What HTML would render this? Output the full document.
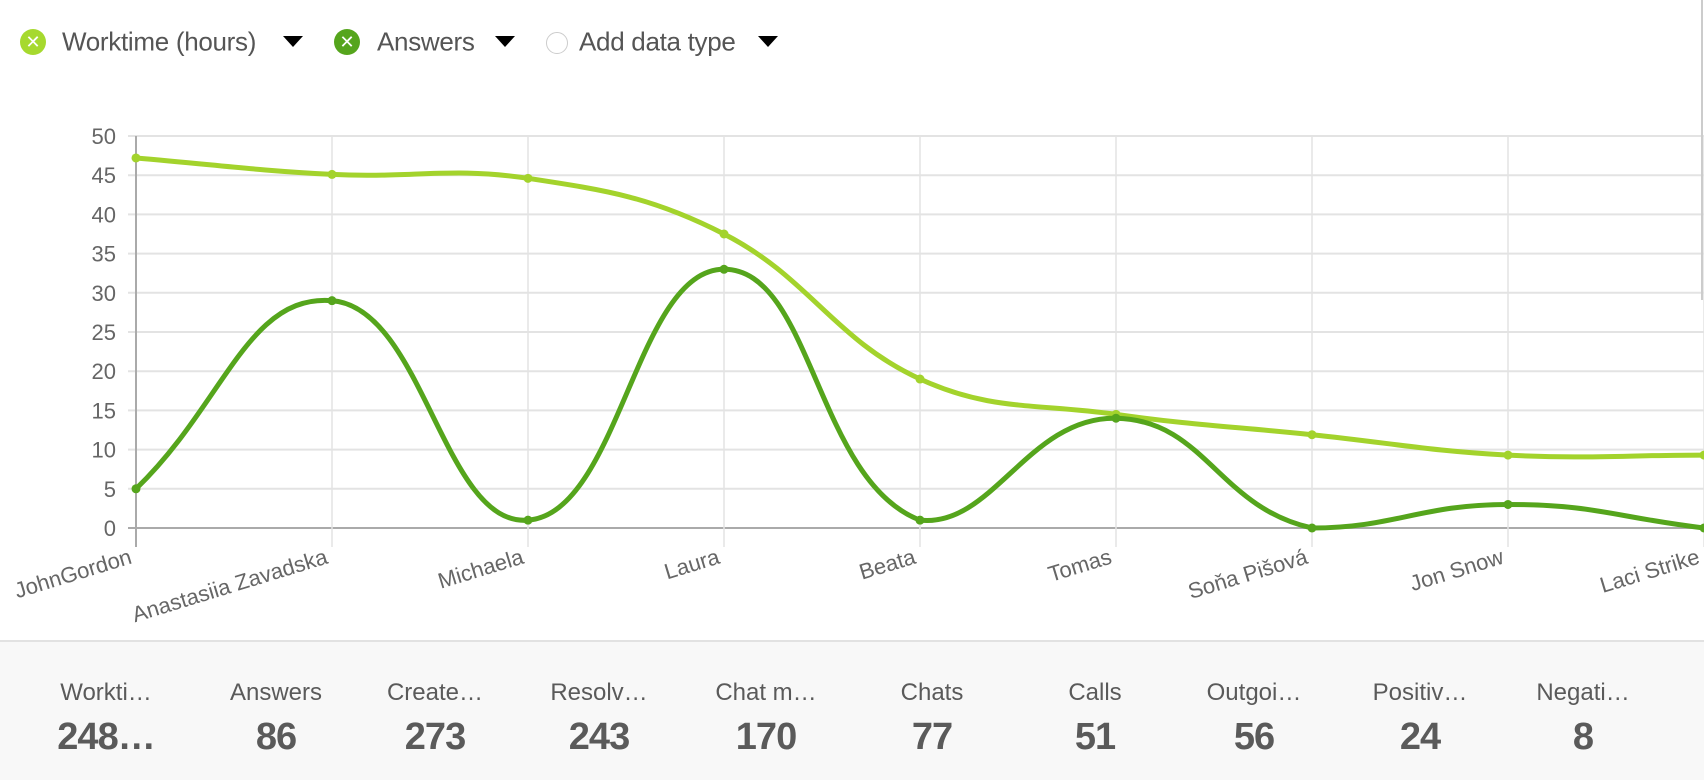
<!DOCTYPE html>
<html><head><meta charset="utf-8"><style>
body{margin:0;width:1704px;height:778px;overflow:hidden;background:#fff;font-family:"Liberation Sans",sans-serif;position:relative}
.leg{position:absolute;top:42px;transform:translateY(-50%);font-size:26px;color:#555;white-space:nowrap;letter-spacing:-0.3px}
.circ{position:absolute;width:26px;height:26px;border-radius:50%;top:29px;color:#fff;font-size:18px;text-align:center;line-height:26px}
.tri{position:absolute;top:36px;width:0;height:0;border-left:10px solid transparent;border-right:10px solid transparent;border-top:11px solid #000}
.panel{position:absolute;left:0;top:640px;width:1704px;height:138px;background:#f8f8f8;border-top:2px solid #e2e2e2}
.col{position:absolute;width:164px;text-align:center;color:#5a5a5a}
.lab{top:37px;font-size:24px}
.val{top:74px;font-size:38px;font-weight:bold;letter-spacing:-1px}
</style></head><body>
<div class="circ" style="left:20px;background:#a6d92e">✕</div>
<div class="leg" style="left:62px">Worktime (hours)</div>
<div class="tri" style="left:283px"></div>
<div class="circ" style="left:334px;background:#55a51c">✕</div>
<div class="leg" style="left:377px">Answers</div>
<div class="tri" style="left:495px"></div>
<div class="circ" style="left:546px;width:20px;height:20px;top:32px;border:1.5px solid #ccc;background:#fff"></div>
<div class="leg" style="left:579px">Add data type</div>
<div class="tri" style="left:758px"></div>
<svg id="s" width="1704" height="640" style="position:absolute;left:0;top:0"></svg>
<div class="panel">
<div class="col lab" style="left:24px">Workti…</div><div class="col val" style="left:24px">248…</div>
<div class="col lab" style="left:194px">Answers</div><div class="col val" style="left:194px">86</div>
<div class="col lab" style="left:353px">Create…</div><div class="col val" style="left:353px">273</div>
<div class="col lab" style="left:517px">Resolv…</div><div class="col val" style="left:517px">243</div>
<div class="col lab" style="left:684px">Chat m…</div><div class="col val" style="left:684px">170</div>
<div class="col lab" style="left:850px">Chats</div><div class="col val" style="left:850px">77</div>
<div class="col lab" style="left:1013px">Calls</div><div class="col val" style="left:1013px">51</div>
<div class="col lab" style="left:1172px">Outgoi…</div><div class="col val" style="left:1172px">56</div>
<div class="col lab" style="left:1338px">Positiv…</div><div class="col val" style="left:1338px">24</div>
<div class="col lab" style="left:1501px">Negati…</div><div class="col val" style="left:1501px">8</div>
</div>
<script>
var s=document.getElementById('s'),h='';
var X0=136,DX=196,Y0=528,K=7.84;
function y(v){return Y0-v*K}
for(var v=0;v<=50;v+=5){var yy=y(v);
h+='<line x1="128" x2="1704" y1="'+yy+'" y2="'+yy+'" stroke="'+(v==0?'#aaa':'#e3e3e3')+'" stroke-width="2"/>';
h+='<text x="116" y="'+(yy+8)+'" text-anchor="end" font-size="22" fill="#666" font-family="Liberation Sans">'+v+'</text>';}
var names=["JohnGordon","Anastasiia Zavadska","Michaela","Laura","Beata","Tomas","Soňa Pišová","Jon Snow","Laci Strike"];
for(var i=0;i<9;i++){var xx=X0+DX*i;
h+='<line x1="'+xx+'" x2="'+xx+'" y1="136" y2="547" stroke="'+(i==0?'#aaa':'#e3e3e3')+'" stroke-width="'+(i==0?2:1.5)+'"/>';
h+='<text transform="translate('+(xx-3)+',563) rotate(-17)" text-anchor="end" font-size="22" fill="#666" font-family="Liberation Sans">'+names[i]+'</text>';}
h+='<line x1="1702" x2="1702" y1="0" y2="300" stroke="#ccc" stroke-width="2"/>';
function path(d,col,t){var p=d.map(function(v,i){return [X0+DX*i,y(v)]}),cp=[];
for(var i=0;i<p.length;i++){var a=p[Math.max(0,i-1)],c=p[i],b=p[Math.min(p.length-1,i+1)];
var d01=Math.hypot(c[0]-a[0],c[1]-a[1]),d12=Math.hypot(b[0]-c[0],b[1]-c[1]),sum=d01+d12||1;
var fa=t*d01/sum,fb=t*d12/sum;
cp.push({p:[c[0]-fa*(b[0]-a[0]),Math.min(Y0,Math.max(136,c[1]-fa*(b[1]-a[1])))],n:[c[0]+fb*(b[0]-a[0]),Math.min(Y0,Math.max(136,c[1]+fb*(b[1]-a[1])))]});}
var s='M'+p[0];for(var i=1;i<p.length;i++)s+=' C'+cp[i-1].n+' '+cp[i].p+' '+p[i];
var r='<path d="'+s+'" fill="none" stroke="'+col+'" stroke-width="5"/>';
p.forEach(function(q){r+='<circle cx="'+q[0]+'" cy="'+q[1]+'" r="4.5" fill="'+col+'"/>'});return r;}
h+=path([47.2,45.1,44.6,37.5,19,14.5,11.9,9.3,9.3],'#a3d32c',0.4);
h+=path([5,29,1,33,1,14,0,3,0],'#55a51c',0.45);
s.innerHTML=h;
</script>
</body></html>
